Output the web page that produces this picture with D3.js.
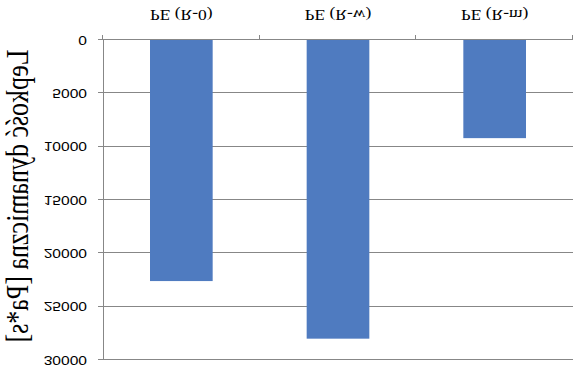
<!DOCTYPE html>
<html>
<head>
<meta charset="utf-8">
<script src="https://cdn.jsdelivr.net/npm/d3@7"></script>
<style>
  body { margin: 0; background: #fff; }
  svg { display: block; }
</style>
</head>
<body>
<svg width="578" height="372"></svg>
<script>
// lepkość dynamiczna dla trzech próbek PE
const categories = ["PE (R-0)", "PE (R-w)", "PE (R-m)"];
const values = [22600, 28000, 9200];
const yTicks = [0, 5000, 10000, 15000, 20000, 25000, 30000];

var svg = d3.select("svg"),
    width = +svg.attr("width"),
    height = +svg.attr("height");

// the reference picture is mirrored top-to-bottom, so draw normally and flip the lot
var g = svg.append("g")
    .attr("transform", "translate(0," + height + ") scale(1,-1)");

// text in the reference is stretched sideways a bit
var stretch = 1.3;

var x = d3.scaleBand()
    .domain(categories)
    .range([103, 573]);

var y = d3.scaleLinear()
    .domain([0, 30000])
    .range([332, 12]);

// gridlines
g.append("g")
  .selectAll("line")
  .data(yTicks)
  .enter().append("line")
    .attr("x1", 98)
    .attr("x2", 573)
    .attr("y1", d => Math.round(y(d)) + 0.5)
    .attr("y2", d => Math.round(y(d)) + 0.5)
    .style("stroke", "#878787")
    .style("stroke-width", 1)

// bars
g.append("g")
  .selectAll("rect")
  .data(values)
  .enter().append("rect")
    .attr("x", (d, i) => x(categories[i]) + x.bandwidth() * 0.3)
    .attr("width", x.bandwidth() * 0.4)
    .attr("y", d => y(d))
    .attr("height", d => y(0) - y(d))
    .style("fill", "#4f7bc0")

// y axis line
g.append("line")
    .attr("x1", 103.5).attr("x2", 103.5)
    .attr("y1", y(30000)).attr("y2", y(0))
    .style("stroke", "#878787")

// category ticks
var edges = categories.map(c => x(c)).concat([x.range()[1]]);
g.append("g")
  .selectAll("line")
  .data(edges)
  .enter().append("line")
    .attr("x1", d => Math.round(d) - 0.5)
    .attr("x2", d => Math.round(d) - 0.5)
    .attr("y1", y(0))
    .attr("y2", y(0) + 5)
    .style("stroke", "#878787")

// y tick labels
g.append("g")
  .selectAll("text")
  .data(yTicks)
  .enter().append("text")
    .attr("transform", d => "translate(87," + y(d) + ") scale(" + stretch + ",1)")
    .attr("dy", "0.35em")
    .attr("text-anchor", "end")
    .style("font-family", "Liberation Sans, Arial, sans-serif")
    .style("font-size", "12px")
    .style("fill", "#000")
    .text(d => d)

// category labels
g.append("g")
  .selectAll("text")
  .data(categories)
  .enter().append("text")
    .attr("transform", d => "translate(" + (x(d) + x.bandwidth() / 2) + ",362) scale(1.25,1)")
    .attr("text-anchor", "middle")
    .style("font-family", "Liberation Serif, Times New Roman, serif")
    .style("font-size", "14px")
    .style("fill", "#000")
    .text(d => d)

// axis title
g.append("text")
    .attr("transform", "translate(28,176) scale(1.25,1) rotate(-90)")
    .attr("text-anchor", "middle")
    .style("font-family", "Liberation Serif, Times New Roman, serif")
    .style("font-size", "26px")
    .style("fill", "#000")
    .text("Lepkość dynamiczna [Pa*s]")
</script>
</body>
</html>
